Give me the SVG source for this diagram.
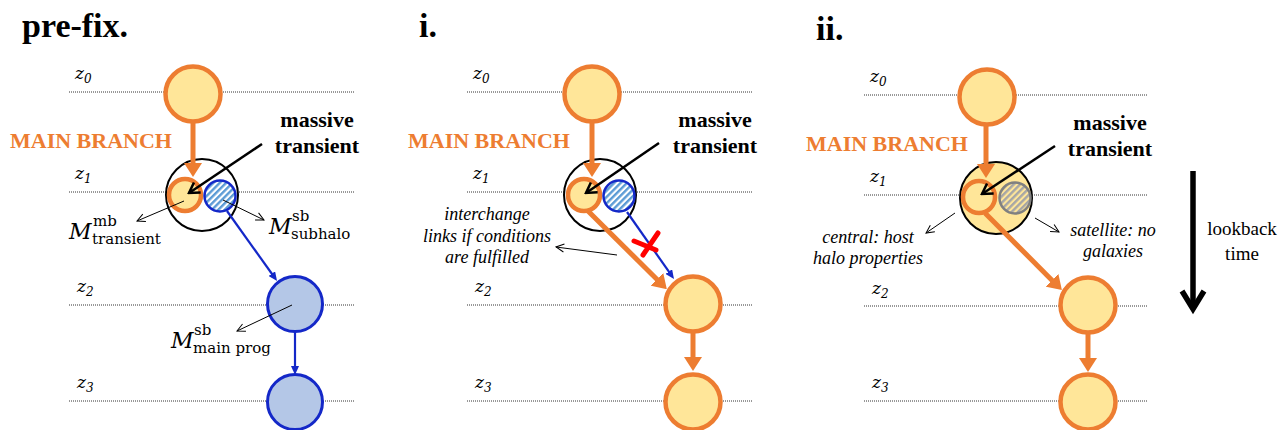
<svg xmlns="http://www.w3.org/2000/svg" width="1280" height="430" viewBox="0 0 1280 430">
<style>
.title{font-family:"Liberation Serif",serif;font-weight:bold;font-size:34px;fill:#000}
.mb{font-family:"Liberation Serif",serif;font-weight:bold;font-size:22px;fill:#ED7D31}
.mt{font-family:"Liberation Serif",serif;font-weight:bold;font-size:22px;fill:#000;text-anchor:middle}
.z{font-family:"DejaVu Serif",serif;font-style:italic;font-size:17px;fill:#000}
.zs{font-family:"DejaVu Serif",serif;font-size:12px;fill:#000}
.M{font-family:"DejaVu Serif",serif;font-style:italic;font-size:22px;fill:#000}
.ms{font-family:"DejaVu Serif",serif;font-size:15px;fill:#000}
.it{font-family:"Liberation Serif",serif;font-style:italic;font-size:18px;fill:#000;text-anchor:middle}
.rg{font-family:"Liberation Serif",serif;font-size:19px;fill:#000;text-anchor:middle}
.dot{stroke:#333;stroke-width:1;stroke-dasharray:1 1;fill:none}
.halo{fill:#FFE699;stroke:#ED7D31;stroke-width:4.5}
.bhalo{fill:#B4C7E7;stroke:#1428C8;stroke-width:3}
.host{fill:#fff;stroke:#000;stroke-width:2}
.hostY{fill:#FFE699;stroke:#000;stroke-width:2}
.subB{fill:url(#hatchB);stroke:#1428C8;stroke-width:2.5}
.subG{fill:url(#hatchG);stroke:#808080;stroke-width:2.5}
.oarr{stroke:#ED7D31;stroke-width:5;fill:none;marker-end:url(#mo)}
.barr{stroke:#1428C8;stroke-width:2.2;fill:none;marker-end:url(#mb)}
.karr{stroke:#000;stroke-width:2.5;fill:none;marker-end:url(#mk)}
.tarr{stroke:#000;stroke-width:1;fill:none;marker-end:url(#mt)}
</style>
<defs>
<pattern id="hatchB" patternUnits="userSpaceOnUse" width="4.5" height="4.5" patternTransform="rotate(45)">
<rect width="4.5" height="4.5" fill="#fff"/>
<line x1="1.2" y1="0" x2="1.2" y2="4.5" stroke="#5B9BD5" stroke-width="2.4"/>
</pattern>
<pattern id="hatchG" patternUnits="userSpaceOnUse" width="4.5" height="4.5" patternTransform="rotate(45)">
<rect width="4.5" height="4.5" fill="#FFE699"/>
<line x1="1.2" y1="0" x2="1.2" y2="4.5" stroke="#A6A6A6" stroke-width="2.4"/>
</pattern>
<marker id="mo" viewBox="0 0 14 18" refX="1" refY="9" markerWidth="14" markerHeight="18" markerUnits="userSpaceOnUse" orient="auto">
<path d="M0,0 L14,9 L0,18 Z" fill="#ED7D31"/>
</marker>
<marker id="mb" viewBox="0 0 9 8" refX="1" refY="4" markerWidth="9" markerHeight="8" markerUnits="userSpaceOnUse" orient="auto">
<path d="M0,0 L9,4 L0,8 Z" fill="#1428C8"/>
</marker>
<marker id="mk" viewBox="-2 -2 14 16" refX="10" refY="6" markerWidth="14" markerHeight="16" markerUnits="userSpaceOnUse" orient="auto">
<path d="M0,0 L10,6 L0,12" fill="none" stroke="#000" stroke-width="2.5"/>
</marker>
<marker id="mt" viewBox="-1 -1 10 10" refX="8" refY="4" markerWidth="10" markerHeight="10" markerUnits="userSpaceOnUse" orient="auto">
<path d="M0,0 L8,4 L0,8" fill="none" stroke="#000" stroke-width="1"/>
</marker>
</defs>

<g id="panel-prefix-labels">
<text class="title" x="22" y="37">pre-fix.</text>
<line class="dot" x1="69" y1="92" x2="355" y2="92"/>
<line class="dot" x1="69" y1="192" x2="355" y2="192"/>
<line class="dot" x1="69" y1="305" x2="355" y2="305"/>
<line class="dot" x1="69" y1="401" x2="355" y2="401"/>
<text class="z" x="75" y="79">z<tspan class="zs" dy="4">0</tspan></text>
<text class="z" x="75" y="179">z<tspan class="zs" dy="4">1</tspan></text>
<text class="z" x="77" y="292">z<tspan class="zs" dy="4">2</tspan></text>
<text class="z" x="77" y="388">z<tspan class="zs" dy="4">3</tspan></text>
<text class="mb" x="10" y="148">MAIN BRANCH</text>
<text class="mt" x="317" y="127">massive</text>
<text class="mt" x="317" y="153">transient</text>
<text class="M" x="69" y="239">M</text>
<text class="ms" x="93" y="226">mb</text>
<text class="ms" x="92" y="244">transient</text>
<text class="M" x="269" y="234">M</text>
<text class="ms" x="292" y="221">sb</text>
<text class="ms" x="291" y="239">subhalo</text>
<text class="M" x="171" y="348">M</text>
<text class="ms" x="194" y="335">sb</text>
<text class="ms" x="193" y="353">main prog</text>
</g>
<g id="p1-n0"><circle class="halo" cx="193" cy="94" r="27.5"/></g>
<g id="p1-host"><circle class="host" cx="202" cy="195" r="36"/></g>
<g id="p1-transient"><circle class="halo" cx="185" cy="195" r="16"/></g>
<g id="p1-subhalo"><circle class="subB" cx="220" cy="196" r="15.5"/></g>
<g id="p1-n2"><circle class="bhalo" cx="295" cy="304" r="27.5"/></g>
<g id="p1-n3"><circle class="bhalo" cx="295" cy="402" r="27.5"/></g>

<g id="panel-i-labels">
<text class="title" x="419" y="37">i.</text>
<line class="dot" x1="467" y1="92" x2="753" y2="92"/>
<line class="dot" x1="467" y1="192" x2="753" y2="192"/>
<line class="dot" x1="467" y1="305" x2="753" y2="305"/>
<line class="dot" x1="467" y1="401" x2="753" y2="401"/>
<text class="z" x="473" y="79">z<tspan class="zs" dy="4">0</tspan></text>
<text class="z" x="473" y="179">z<tspan class="zs" dy="4">1</tspan></text>
<text class="z" x="475" y="292">z<tspan class="zs" dy="4">2</tspan></text>
<text class="z" x="475" y="388">z<tspan class="zs" dy="4">3</tspan></text>
<text class="mb" x="408" y="148">MAIN BRANCH</text>
<text class="mt" x="715" y="127">massive</text>
<text class="mt" x="715" y="153">transient</text>
<text class="it" x="487" y="220">interchange</text>
<text class="it" x="487" y="242">links if conditions</text>
<text class="it" x="487" y="263">are fulfilled</text>
</g>
<g id="p2-n0"><circle class="halo" cx="592" cy="94" r="27.5"/></g>
<g id="p2-host"><circle class="host" cx="600" cy="195" r="36"/></g>
<g id="p2-transient"><circle class="halo" cx="584" cy="195" r="16"/></g>
<g id="p2-subhalo"><circle class="subB" cx="619" cy="196" r="15.5"/></g>
<g id="p2-n2"><circle class="halo" cx="693" cy="304" r="27.5"/></g>
<g id="p2-n3"><circle class="halo" cx="693" cy="402" r="27.5"/></g>

<g id="panel-ii-labels">
<text class="title" x="816" y="40">ii.</text>
<line class="dot" x1="864" y1="95" x2="1147" y2="95"/>
<line class="dot" x1="864" y1="195" x2="1147" y2="195"/>
<line class="dot" x1="864" y1="306" x2="1147" y2="306"/>
<line class="dot" x1="864" y1="401" x2="1147" y2="401"/>
<text class="z" x="870" y="82">z<tspan class="zs" dy="4">0</tspan></text>
<text class="z" x="870" y="182">z<tspan class="zs" dy="4">1</tspan></text>
<text class="z" x="872" y="294">z<tspan class="zs" dy="4">2</tspan></text>
<text class="z" x="872" y="388">z<tspan class="zs" dy="4">3</tspan></text>
<text class="mb" x="806" y="151">MAIN BRANCH</text>
<text class="mt" x="1110" y="130">massive</text>
<text class="mt" x="1110" y="156">transient</text>
<text class="it" x="868" y="243">central: host</text>
<text class="it" x="868" y="264">halo properties</text>
<text class="it" x="1113" y="236">satellite: no</text>
<text class="it" x="1113" y="257">galaxies</text>
<text class="rg" x="1242" y="235">lookback</text>
<text class="rg" x="1242" y="260">time</text>
</g>
<g id="p3-n0"><circle class="halo" cx="987" cy="97" r="27.5"/></g>
<g id="p3-host"><circle class="hostY" cx="996" cy="198" r="36"/></g>
<g id="p3-central"><circle class="halo" cx="979" cy="197" r="16"/></g>
<g id="p3-satellite"><circle class="subG" cx="1015" cy="198" r="15.5"/></g>
<g id="p3-n2"><circle class="halo" cx="1088" cy="305" r="27.5"/></g>
<g id="p3-n3"><circle class="halo" cx="1088" cy="402" r="27.5"/></g>

<g id="connectors">
<line class="oarr" x1="193" y1="123" x2="193" y2="164"/>
<line class="barr" x1="227" y1="211" x2="272.4" y2="274.5"/>
<line class="barr" x1="295" y1="332" x2="295" y2="367"/>
<line class="karr" x1="262" y1="144" x2="189" y2="193"/>
<line class="tarr" x1="184" y1="201" x2="137" y2="221"/>
<line class="tarr" x1="223" y1="200" x2="264" y2="220"/>
<line class="tarr" x1="292" y1="305" x2="237" y2="331"/>

<line class="oarr" x1="592" y1="123" x2="592" y2="164"/>
<line class="barr" x1="627" y1="212" x2="669.4" y2="272.4"/>
<line class="oarr" x1="588" y1="211" x2="657.6" y2="280"/>
<line class="oarr" x1="693" y1="333" x2="693" y2="358"/>
<line class="karr" x1="659" y1="143" x2="586" y2="193"/>
<line class="tarr" x1="617" y1="255" x2="556" y2="247"/>
<path d="M634,241 L656,250 M643,255 L658,233" stroke="#FF0000" stroke-width="5" fill="none" stroke-linecap="round"/>

<line class="oarr" x1="986" y1="126" x2="986" y2="165"/>
<line class="oarr" x1="985" y1="213" x2="1052.7" y2="280.9"/>
<line class="oarr" x1="1088" y1="334" x2="1088" y2="359"/>
<line class="karr" x1="1055" y1="146" x2="982" y2="194"/>
<line class="tarr" x1="955" y1="213" x2="926" y2="233"/>
<line class="tarr" x1="1035" y1="218" x2="1059" y2="232"/>
<line x1="1193" y1="171" x2="1193" y2="308" stroke="#000" stroke-width="5.5"/>
<path d="M1182,291 L1193,309 L1204,291" fill="none" stroke="#000" stroke-width="5.5"/>
</g>
</svg>
